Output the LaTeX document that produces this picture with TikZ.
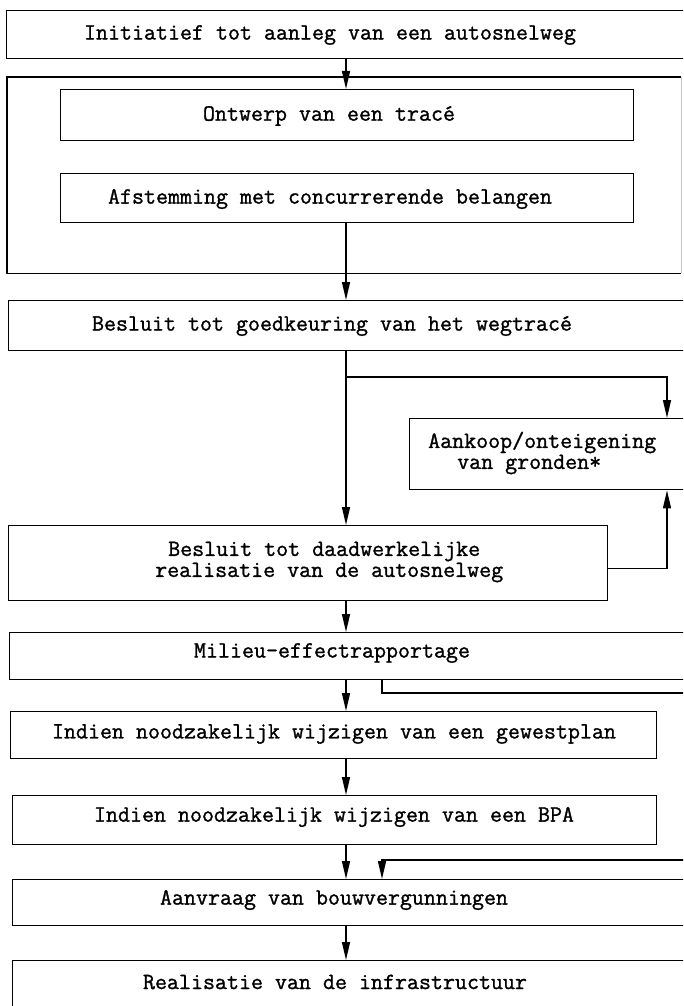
\documentclass[tikz,border=0pt]{standalone}
\usepackage{fontspec}
\newfontfamily\typewriter{Latin Modern Mono}[FakeBold=1.2]
\usetikzlibrary{arrows.meta}
\begin{document}
\begin{tikzpicture}[x=1pt,y=-1pt,
  frame/.style={draw, line width=1.4pt, inner sep=0pt, anchor=north west},
  lbl/.style={font=\typewriter\fontsize{23.3}{21}\selectfont, inner sep=0pt},
  flow/.style={line width=1.4pt, -{Triangle[length=18pt,width=8pt]}}]
\useasboundingbox (0,0) rectangle (683,1006);
\clip (0,0) rectangle (683,1006);

% process boxes (several run on past the right edge of the sheet)
\node[frame, minimum width=694pt, minimum height=48pt] (init) at (6,10) {};
\node[frame, draw=none, minimum width=673pt, minimum height=195pt] (group) at (7,77) {};
\draw[line width=1.4pt] (group.north east) -- (group.north west)
  -- (group.south west) -- (group.south east);
\draw[line width=1pt, gray!45] (group.north east) -- (group.south east);
\node[frame, minimum width=573pt, minimum height=51pt] (ontw) at (60,89) {};
\node[frame, minimum width=573pt, minimum height=49pt] (afst) at (60,173) {};
\node[frame, minimum width=692pt, minimum height=50pt] (goedk) at (8,300) {};
\node[frame, minimum width=291pt, minimum height=71pt] (aank) at (409,418) {};
\node[frame, minimum width=599pt, minimum height=75pt] (daad) at (8,525) {};
\node[frame, minimum width=691pt, minimum height=47pt] (mil) at (9,632) {};
\node[frame, minimum width=646pt, minimum height=47pt] (gew) at (10,711) {};
\node[frame, minimum width=644pt, minimum height=49pt] (bpa) at (12,795) {};
\node[frame, minimum width=688pt, minimum height=46pt] (aanv) at (12,879) {};
\node[frame, minimum width=688pt, minimum height=60pt] (real) at (12,960) {};

% texts
\node[lbl] (tinit) at (330,35) {Initiatief tot aanleg van een autosnelweg};
\node[lbl] (tontw) at (329,116) {Ontwerp van een tracé};
\node[lbl] (tafst) at (330,199) {Afstemming met concurrerende belangen};
\node[lbl] (tgoedk) at (332,326) {Besluit tot goedkeuring van het wegtracé};
\node[lbl, anchor=west, align=left] (taank) at (428,453)
  {Aankoop/onteigening\\\hspace*{29pt}van gronden*};
\node[lbl, anchor=west, align=left] (tdaad) at (155,562)
  {\hspace*{13pt}Besluit tot daadwerkelijke\\realisatie van de autosnelweg};
\node[lbl] (tmil) at (332,653) {Milieu-effectrapportage};
\node[lbl] (tgew) at (334,734) {Indien noodzakelijk wijzigen van een gewestplan};
\node[lbl] (tbpa) at (334,817) {Indien noodzakelijk wijzigen van een BPA};
\node[lbl] (taanv) at (334,900) {Aanvraag van bouwvergunningen};
\node[lbl] (treal) at (335,982) {Realisatie van de infrastructuur};

% connector columns and routing points
\coordinate (mx) at (346,0);
\coordinate (bx) at (382,0);
\coordinate (rx) at (667,0);
\coordinate (split) at (346,377);
\coordinate (byA) at (700,693);
\coordinate (byB) at (700,860);

% main sequence
\draw[flow] (init.south -| mx) -- (ontw.north -| mx);
\draw[flow] (afst.south -| mx) -- (goedk.north -| mx);
\draw[flow] (goedk.south -| mx) -- (daad.north -| mx);
\draw[flow] (daad.south -| mx) -- (mil.north -| mx);
\draw[flow] (mil.south -| mx) -- (gew.north -| mx);
\draw[flow] (gew.south -| mx) -- (bpa.north -| mx);
\draw[flow] (bpa.south -| mx) -- (aanv.north -| mx);
\draw[flow] (aanv.south -| mx) -- (real.north -| mx);

% land acquisition branch
\draw[flow] (split) -| (aank.north -| rx);
\draw[flow] ([yshift=-5pt]daad.east) -| (aank.south -| rx);

% bypass from the environmental report to the permits
\draw[flow] (mil.south -| bx) |- (byA) -- (byB) -| (aanv.north -| bx);
\end{tikzpicture}
\end{document}
